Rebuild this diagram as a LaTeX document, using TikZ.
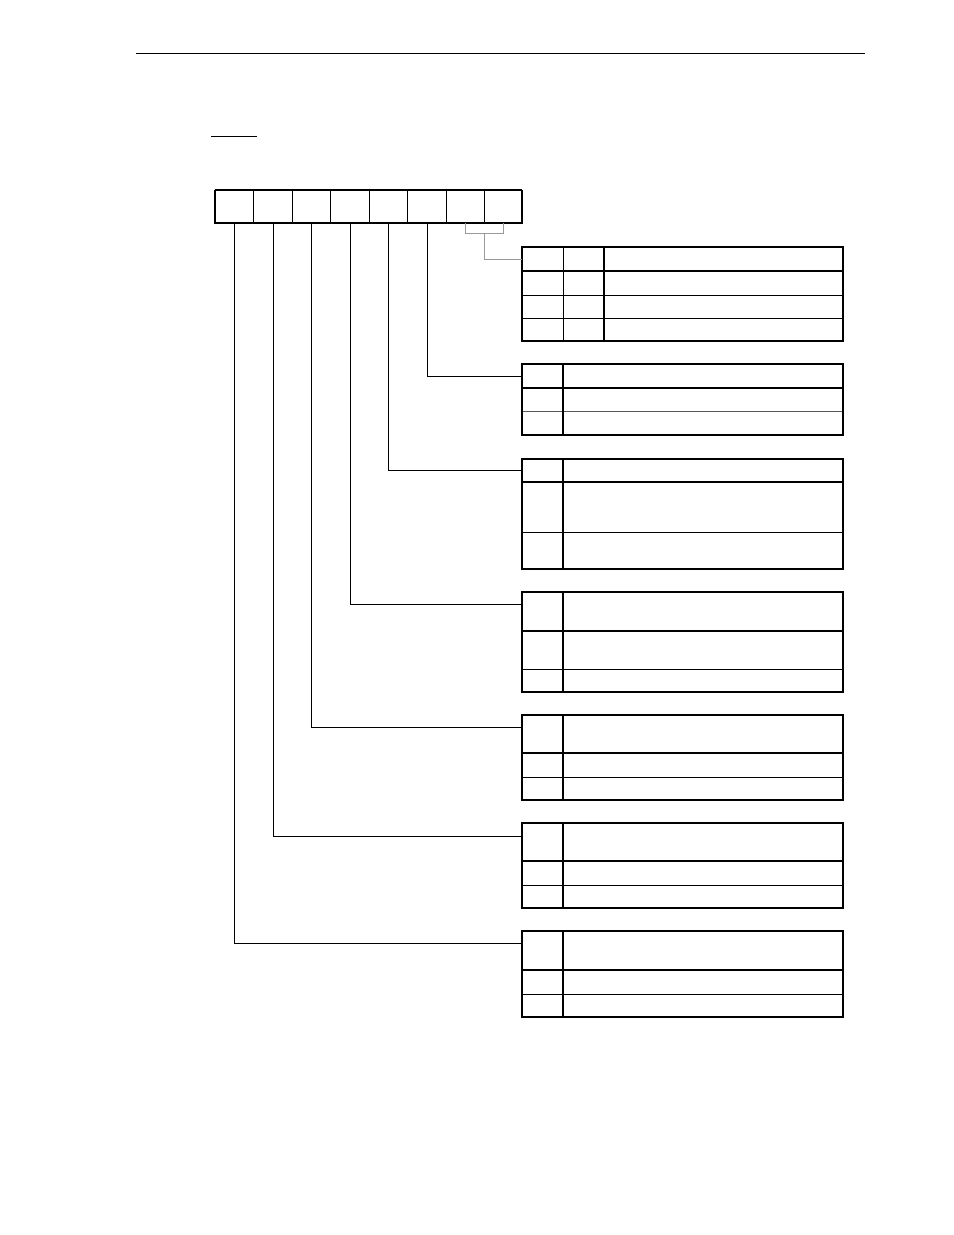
\documentclass[tikz,border=0pt]{standalone}
\begin{document}
\begin{tikzpicture}[x=1bp,y=-1bp,
  thin line/.style={line width=1bp},
  thick line/.style={line width=2bp},
  conn/.style={line width=1bp},
  grayconn/.style={line width=1bp,draw=black!40},
  grayrow/.style={line width=1bp,draw=black!65}]
\useasboundingbox (0,0) rectangle (954,1235);
% header rule and underline
\draw[thin line] (136,53) -- (865,53);
\draw[thin line] (211,136) -- (257,136);
% register
\draw[thin line] (215,190) rectangle (522,223);
\draw[thick line] (215,190) -- (215,223) -- (522,223) -- (522,190);
\draw[line width=1.5bp] (215,190) -- (522,190);
\foreach \x in {253,292,330,369,407,446,484} \draw[thin line] (\x,190) -- (\x,223);
% named coordinates for bit connectors
\foreach \i/\x in {7/234,6/273,5/311,4/350,3/388,2/427,1/465,0/503}
  \coordinate (b\i) at (\x,223);
% table 1
\draw[thin line] (563,247) -- (563,341);
\draw[thin line] (522,295) -- (843,295);
\draw[thin line] (522,318) -- (843,318);
\draw[thick line] (522,271) -- (843,271);
\draw[thick line] (604,247) -- (604,341);
\draw[thick line] (522,247) rectangle (843,341);
\coordinate (t1) at (522,259);
% generic tables: top, header bottom, row line, bottom
\newcommand{\regtable}[5][thin line]{%
  \draw[#1] #4;
  \draw[thick line] (522,#3) -- (843,#3);
  \draw[thick line] (563,#2) -- (563,#5);
  \draw[thick line] (522,#2) rectangle (843,#5);}
\regtable[grayrow]{364}{388}{(522,411) -- (843,411)}{435}
\regtable{459}{482}{(522,532) -- (843,532)}{569}
\regtable{592}{631}{(522,669) -- (843,669)}{692}
\regtable{715}{753}{(522,777) -- (843,777)}{800}
\regtable{823}{861}{(522,885) -- (843,885)}{908}
\regtable{931}{970}{(522,994) -- (843,994)}{1017}
\coordinate (t2) at (522,376);
\coordinate (t3) at (522,470);
\coordinate (t4) at (522,604);
\coordinate (t5) at (522,727);
\coordinate (t6) at (522,836);
\coordinate (t7) at (522,943);
% connectors
\draw[conn] (b2) |- (t2);
\draw[conn] (b3) |- (t3);
\draw[conn] (b4) |- (t4);
\draw[conn] (b5) |- (t5);
\draw[conn] (b6) |- (t6);
\draw[conn] (b7) |- (t7);
\coordinate (bm) at (484,233);
\draw[grayconn] (b1) -- (465,233) -- (503,233) -- (b0);
\draw[grayconn] (bm) -- (484,259) -- (t1);
\end{tikzpicture}
\end{document}
